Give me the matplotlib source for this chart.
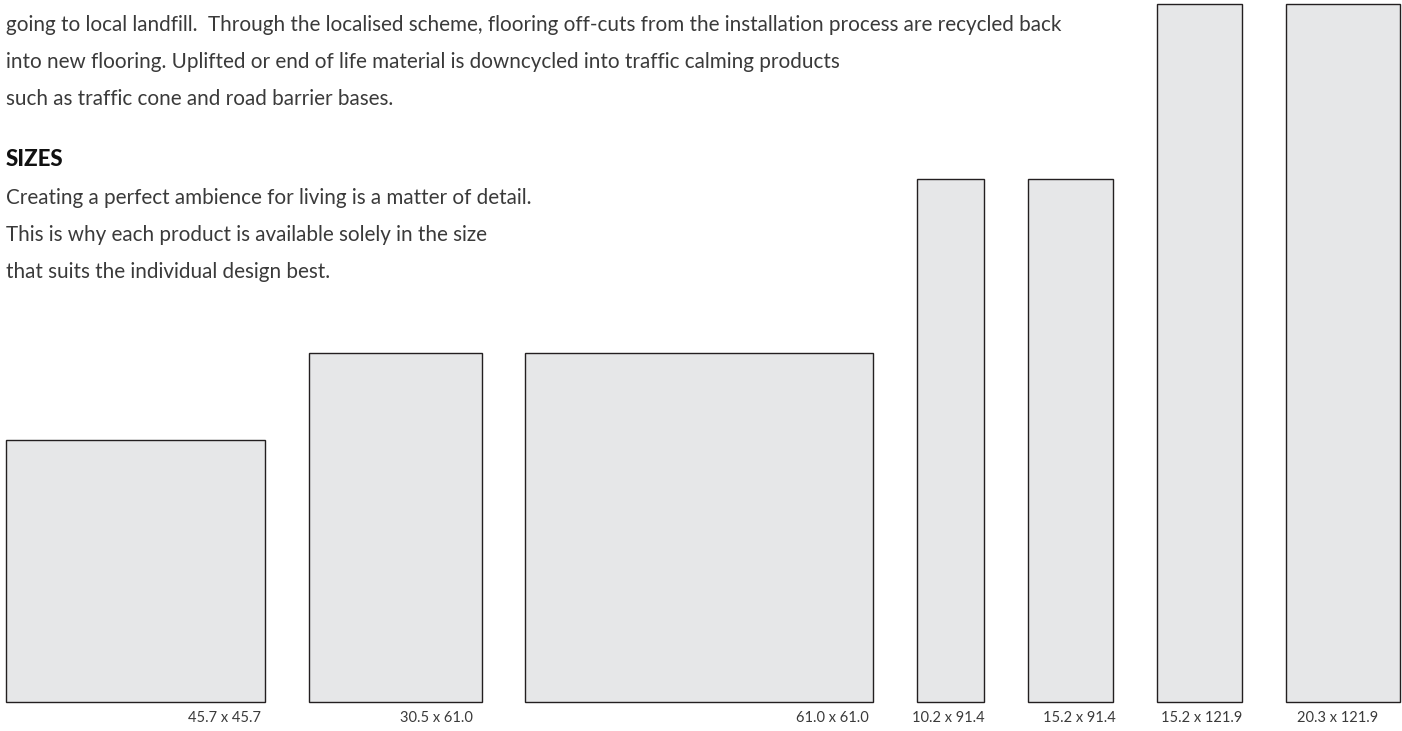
import numpy as np
import matplotlib
matplotlib.use("Agg")
import matplotlib.pyplot as plt

# ---- data (cm) ----
labels = ["45.7 x 45.7", "30.5 x 61.0", "61.0 x 61.0", "10.2 x 91.4",
          "15.2 x 91.4", "15.2 x 121.9", "20.3 x 121.9"]
tile_w = [45.3, 30.2, 60.8, 11.7, 15.0, 14.9, 19.9]     # drawn widths
tile_h = [45.7, 61.0, 61.0, 91.4, 91.4, 121.9, 121.9]

para1 = ["going to local landfill.  Through the localised scheme, flooring off-cuts from the installation process are recycled back",
         "into new flooring. Uplifted or end of life material is downcycled into traffic calming products",
         "such as traffic cone and road barrier bases."]
heading = "SIZES"
para2 = ["Creating a perfect ambience for living is a matter of detail.",
         "This is why each product is available solely in the size",
         "that suits the individual design best."]

# ---- layout ----
W, H = 1402, 731
PX = 5.721            # pixels per cm
GAP = 43.7 / PX
START = 6 / PX
BASE_PX = 701.5

fig = plt.figure(figsize=(W / 100, H / 100), dpi=100)
ax = fig.add_axes([0, 0, 1, 1])
ax.set_xlim(0, W / PX)
ax.set_ylim(-(H - BASE_PX) / PX, BASE_PX / PX)
ax.axis("off")

w = np.array(tile_w)
lefts = START + np.concatenate([[0], np.cumsum(w[:-1] + GAP)])
ax.bar(lefts, tile_h, width=w, align="edge", bottom=0,
       color="#e6e7e8", edgecolor="#231f20", linewidth=1.0)

label_off_px = [-4, -9, -4, 1, 2, 0, -22]
label_base = -(722 - BASE_PX) / PX
for l, ww, lab, off in zip(lefts, w, labels, label_off_px):
    ax.text(l + ww + off / PX, label_base, lab, ha="right", va="baseline",
            fontsize=10.5, family="Lato", color="#3a3a3a")

# ---- body text ----
FONT = "Lato"
TXT = "#3a3a3a"
fs = 15
renderer = fig.canvas.get_renderer()
t = fig.text(6 / W, 1 - 31 / H, para1[0], fontsize=fs, family=FONT,
             color=TXT, va="baseline", ha="left")
bb = t.get_window_extent(renderer)
fs = fs * (1062 - 6) / bb.width
t.set_fontsize(fs)

for i, line in enumerate(para1[1:], start=1):
    fig.text(6 / W, 1 - (31 + 37 * i) / H, line, fontsize=fs, family=FONT,
             color=TXT, va="baseline", ha="left")
fig.text(6 / W, 1 - 166 / H, heading, fontsize=fs * 1.08, family=FONT,
         fontweight="black", color="#111111", va="baseline", ha="left")
for i, line in enumerate(para2):
    fig.text(6 / W, 1 - (204 + 37 * i) / H, line, fontsize=fs, family=FONT,
             color=TXT, va="baseline", ha="left")

fig.savefig("out.png", dpi=100)
